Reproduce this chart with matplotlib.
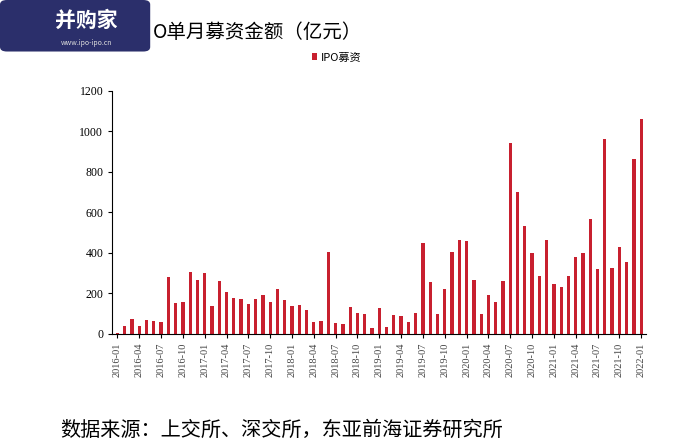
import matplotlib.pyplot as plt
from matplotlib.patches import FancyBboxPatch

plt.rcParams['font.family'] = ['Noto Sans CJK SC', 'DejaVu Sans']

months = [f"{y}-{m:02d}" for y in range(2016, 2022) for m in range(1, 13)] + ["2022-01"]
values = [5, 40, 73, 38, 70, 65, 57, 280, 152, 157, 305, 268,
          300, 138, 263, 208, 176, 172, 148, 170, 190, 157, 222, 165,
          138, 143, 118, 57, 62, 405, 55, 50, 133, 102, 97, 30,
          128, 33, 94, 89, 60, 103, 449, 257, 99, 222, 405, 464,
          459, 267, 99, 192, 158, 262, 943, 701, 533, 400, 286, 464,
          247, 232, 286, 380, 400, 568, 321, 963, 326, 430, 356, 864,
          1062]

fig = plt.figure(figsize=(6.89, 4.48), dpi=100)
ax = fig.add_axes([0.163, 0.255, 0.775, 0.542])
x = list(range(len(values)))
ax.bar(x, values, width=0.45, color='#c8202f', label='IPO募资')
ax.set_xlim(-0.7, len(values) - 0.3)
ax.set_ylim(0, 1200)
ax.set_yticks(range(0, 1201, 200))
ax.set_xticks(x[::3])
ax.set_xticklabels(months[::3], rotation=90, fontsize=7.5, family='Liberation Serif', color='#444444')
for lab in ax.get_yticklabels():
    lab.set_family('Liberation Serif')
    lab.set_fontsize(8.5)
ax.tick_params(axis='both', length=3, width=0.8)
for s in ['top', 'right']:
    ax.spines[s].set_visible(False)
ax.legend(loc='upper center', bbox_to_anchor=(0.42, 1.2), frameon=False, fontsize=8,
          handlelength=0.5, handleheight=0.5, handletextpad=0.3)

# logo overlay (covers the start of the title)
logo = FancyBboxPatch((0.0, 0.885), 0.218, 0.115, boxstyle='round,pad=0,rounding_size=0.01',
                      transform=fig.transFigure, facecolor='#2b2f6b', edgecolor='none')
fig.patches.append(logo)
fig.text(0.125, 0.955, '并购家', fontsize=15, color='white', weight='bold', ha='center', va='center')
fig.text(0.125, 0.905, 'www.ipo-ipo.cn', fontsize=5, color='#dddddd', ha='center', va='center')
fig.text(0.222, 0.928, 'O单月募资金额（亿元）', fontsize=14, va='center')
fig.text(0.087, 0.04, '数据来源：上交所、深交所，东亚前海证券研究所', fontsize=14.5, va='center')

fig.savefig('out.png', dpi=100)
